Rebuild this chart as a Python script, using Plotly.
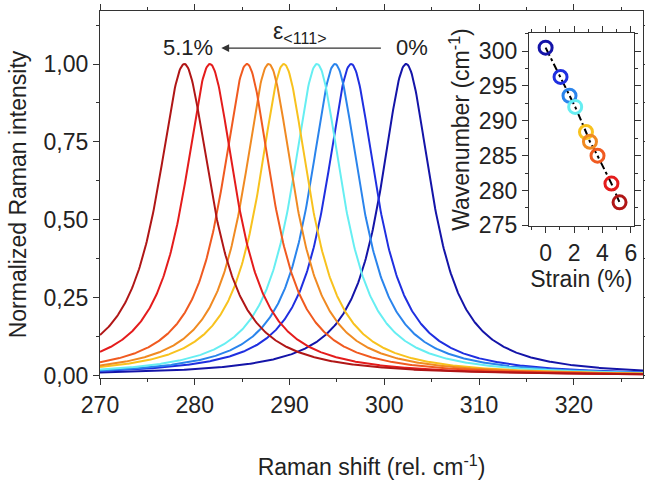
import numpy as np
import plotly.graph_objects as go

# ---- data ----
strain_pct = [0.0, 1.05, 1.68, 2.08, 2.84, 3.12, 3.65, 4.63, 5.2]
inset_wavenumber = [300.5, 296.3, 293.6, 292.0, 288.4, 287.0, 285.0, 281.0, 278.3]
peak_center = [302.3, 296.5, 294.8, 292.9, 289.4, 287.8, 285.5, 281.6, 278.9]
peak_hwhm = [3.3, 3.3, 3.3, 3.3, 3.3, 3.3, 3.3, 3.35, 3.45]
colors = ['#1414a8', '#1f2fe0', '#2a84ec', '#66eef2', '#f8c21e',
          '#f08a22', '#f05a20', '#e41c1c', '#b01616']
x_ticks_main = [270, 280, 290, 300, 310, 320]
y_ticks_main = [0.0, 0.25, 0.5, 0.75, 1.0]

FONT = "Liberation Sans, Arial, sans-serif"

shift = np.linspace(270, 327.5, 700)

fig = go.Figure()
for c, w, col in zip(peak_center, peak_hwhm, colors):
    inten = 1.0 / (1.0 + ((shift - c) / w) ** 2)
    fig.add_trace(go.Scatter(x=shift, y=inten, mode='lines',
                             line=dict(color=col, width=2),
                             showlegend=False, hoverinfo='skip'))

# inset
fig.add_trace(go.Scatter(x=strain_pct, y=inset_wavenumber, mode='lines',
                         line=dict(color='black', width=2, dash='dashdot'),
                         xaxis='x2', yaxis='y2', showlegend=False))
fig.add_trace(go.Scatter(x=strain_pct, y=inset_wavenumber, mode='markers',
                         marker=dict(symbol='circle-open', size=13,
                                     color=colors, line=dict(width=3, color=colors)),
                         xaxis='x2', yaxis='y2', showlegend=False))

axis_common = dict(showline=True, linecolor='#333', linewidth=1.3, mirror='ticks',
                   ticks='outside', ticklen=6, tickwidth=1.3, tickcolor='#333',
                   showgrid=False, zeroline=False, automargin=False)

fig.update_layout(
    width=645, height=490,
    margin=dict(l=100, r=2, t=11, b=112),
    paper_bgcolor='white', plot_bgcolor='white',
    separators=', ',
    font=dict(family=FONT, size=23, color='#222'),
    xaxis=dict(range=[270, 327.3], tickvals=x_ticks_main,
               minor=dict(ticks='outside', ticklen=3, dtick=5, tickcolor='#333'),
               title=dict(text='Raman shift (rel. cm<sup>-1</sup>)', standoff=42,
                          font=dict(size=23)),
               tickfont=dict(size=23), **axis_common),
    yaxis=dict(range=[-0.007, 1.17], tickvals=y_ticks_main, tickformat='.2f',
               minor=dict(ticks='outside', ticklen=3, dtick=0.125, tick0=0, tickcolor='#333'),
               title=dict(text='Normalized Raman intensity', standoff=10,
                          font=dict(size=23)),
               tickfont=dict(size=23), **axis_common),
    xaxis2=dict(domain=[0.79, 0.983], anchor='y2', range=[-1.17, 6.2],
                tickvals=[0, 2, 4, 6],
                minor=dict(ticks='outside', ticklen=3, dtick=1, tickcolor='#333'),
                title=dict(text='Strain (%)', standoff=0, font=dict(size=23)),
                tickfont=dict(size=23), **axis_common),
    yaxis2=dict(domain=[0.414, 0.94], anchor='x2', range=[274.9, 302.6],
                tickvals=[275, 280, 285, 290, 295, 300],
                minor=dict(ticks='outside', ticklen=3, dtick=2.5, tick0=275, tickcolor='#333'),
                title=dict(text='Wavenumber (cm<sup>-1</sup>)', standoff=2, font=dict(size=23)),
                tickfont=dict(size=23), **axis_common),
)

fig.add_annotation(x=282.8, y=1.051, ax=299.8, ay=1.051, xref='x', yref='y',
                   axref='x', ayref='y', text='', showarrow=True,
                   arrowhead=2, arrowsize=1.3, arrowwidth=1.2, arrowcolor='#333')
fig.add_annotation(x=279.3, y=1.054, xref='x', yref='y', text='5.1%',
                   showarrow=False, font=dict(size=22))
fig.add_annotation(x=302.9, y=1.054, xref='x', yref='y', text='0%',
                   showarrow=False, font=dict(size=22))
fig.add_annotation(x=291.1, y=1.10, xref='x', yref='y',
                   text='ε<sub>&lt;111&gt;</sub>', showarrow=False, font=dict(size=23))

fig.write_html("out.html", config={'displayModeBar': False},
               post_script="document.body.style.margin='0';document.body.style.overflow='hidden';")
